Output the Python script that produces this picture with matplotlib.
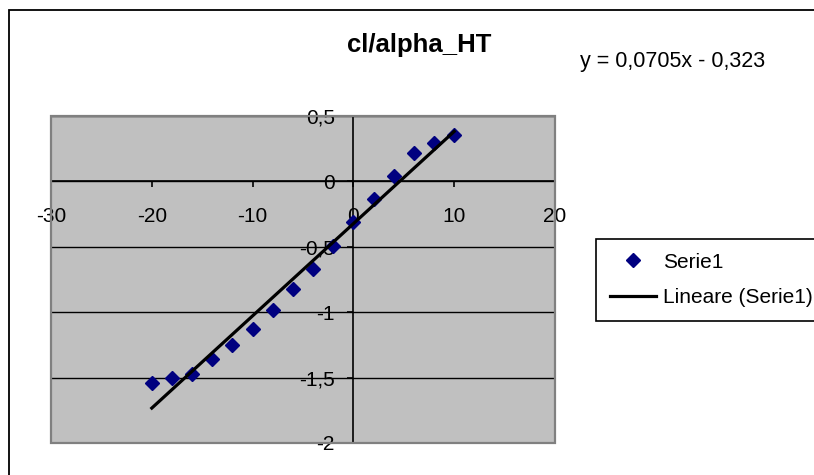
import matplotlib
matplotlib.use("Agg")
import matplotlib.pyplot as plt
import numpy as np
from matplotlib.patches import Rectangle
from matplotlib.ticker import FuncFormatter, MultipleLocator

plt.rcParams["font.family"] = ["Liberation Sans", "DejaVu Sans"]

# angle of attack (deg) and lift coefficient of the horizontal tail
alpha = [-20, -18, -16, -14, -12, -10, -8, -6, -4, -2, 0, 2, 4, 6, 8, 10]
cl = [-1.544, -1.505, -1.474, -1.36, -1.25, -1.128, -0.98, -0.82,
      -0.672, -0.497, -0.313, -0.133, 0.041, 0.218, 0.297, 0.354]

# linear trend line
slope = 0.0705
intercept = -0.323

W, H = 814, 475
fig = plt.figure(figsize=(W / 100, H / 100), dpi=100)

# chart area border (left and top edges visible)
fig.add_artist(Rectangle((9 / W, -0.5), 2, 1 - 10 / H + 0.5, transform=fig.transFigure,
                         fill=False, edgecolor="black", lw=1.3))

ax = fig.add_axes([51 / W, 1 - 443 / H, 504 / W, 327 / H])
ax.set_facecolor("#c0c0c0")
ax.set_xlim(-30, 20)
ax.set_ylim(-2, 0.5)

for side in ["top", "right"]:
    ax.spines[side].set_visible(False)
ax.spines["left"].set_position(("data", 0))
ax.spines["bottom"].set_position(("data", 0))
for side in ["left", "bottom"]:
    ax.spines[side].set_color("black")
    ax.spines[side].set_linewidth(1.2)
ax.add_patch(Rectangle((0, 0), 1, 1, transform=ax.transAxes, fill=False,
                       edgecolor="#808080", lw=1.6, clip_on=False, zorder=3))

ax.xaxis.set_major_locator(MultipleLocator(10))
ax.yaxis.set_major_locator(MultipleLocator(0.5))
comma = FuncFormatter(lambda v, p: f"{v:g}".replace(".", ","))
ax.xaxis.set_major_formatter(comma)
ax.yaxis.set_major_formatter(comma)
ax.tick_params(axis="both", labelsize=15, length=4.3, width=1.2, color="black")
ax.tick_params(axis="x", pad=14)
ax.tick_params(axis="y", pad=9)
ax.yaxis.grid(True, color="black", lw=1)
ax.set_axisbelow(True)

xs = np.array([alpha[0], alpha[-1]])
ax.plot(alpha, cl, linestyle="none", marker="D", markersize=7.5,
        color="#000080", label="Serie1", zorder=4)
ax.plot(xs, slope * xs + intercept, color="black", lw=2.3,
        label="Lineare (Serie1)", zorder=5)

fig.text(419 / W, 1 - 45 / H, "cl/alpha_HT", ha="center", va="center",
         fontsize=18.5, fontweight="bold")
fig.text(580 / W, 1 - 62 / H, "y = 0,0705x - 0,323", ha="left", va="center",
         fontsize=15.5)

leg = fig.legend(loc="upper left", bbox_to_anchor=(596 / W, 1 - 239 / H),
                 fontsize=15, fancybox=False, edgecolor="black", framealpha=1,
                 handlelength=2.25, handletextpad=0.3, borderpad=0.65,
                 labelspacing=0.8, borderaxespad=0)
leg.get_frame().set_linewidth(1.2)

fig.savefig("out.png", dpi=100)
